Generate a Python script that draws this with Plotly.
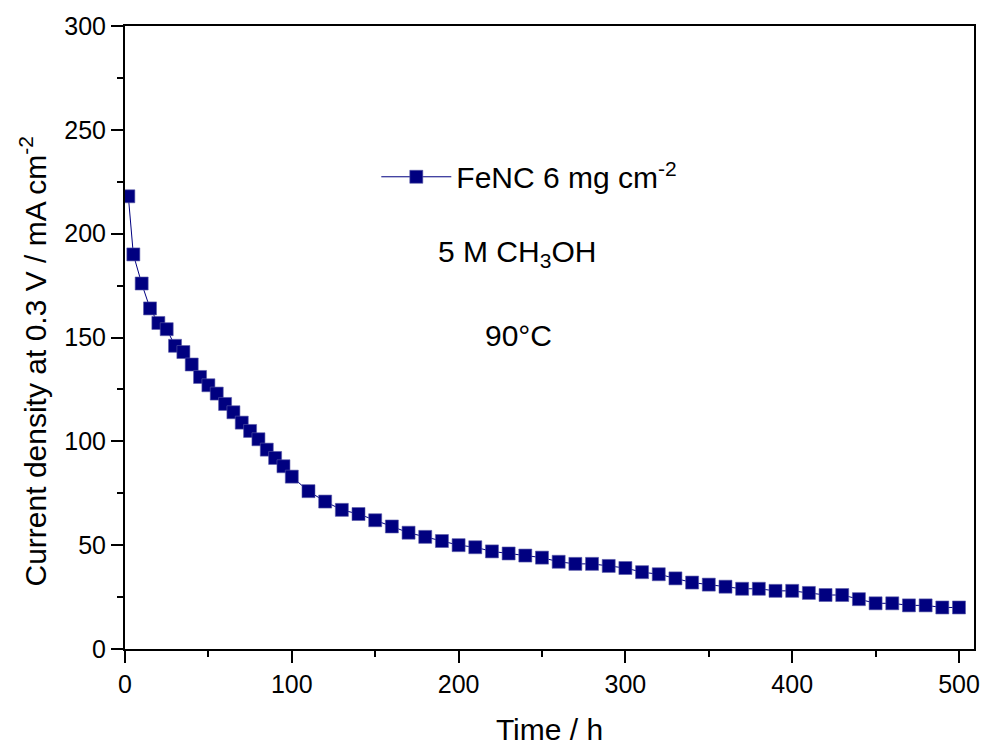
import plotly.graph_objects as go

time_h = [2, 5, 10, 15, 20, 25, 30, 35, 40, 45, 50, 55, 60, 65, 70, 75, 80, 85, 90, 95, 100,
          110, 120, 130, 140, 150, 160, 170, 180, 190, 200, 210, 220, 230, 240, 250, 260, 270,
          280, 290, 300, 310, 320, 330, 340, 350, 360, 370, 380, 390, 400, 410, 420, 430, 440,
          450, 460, 470, 480, 490, 500]
current_density = [218, 190, 176, 164, 157, 154, 146, 143, 137, 131, 127, 123, 118, 114, 109,
                   105, 101, 96, 92, 88, 83,
                   76, 71, 67, 65, 62, 59, 56, 54, 52, 50, 49, 47, 46, 45, 44, 42, 41,
                   41, 40, 39, 37, 36, 34, 32, 31, 30, 29, 29, 28, 28, 27, 26, 26, 24,
                   22, 22, 21, 21, 20, 20]

series_name = "FeNC 6 mg cm<sup>-2</sup>"
x_title = "Time / h"
y_title = "Current density at 0.3 V / mA cm<sup>-2</sup>"
note_1 = "5 M CH<sub>3</sub>OH"
note_2 = "90°C"

FONT = "Liberation Sans, Arial, sans-serif"
NAVY = "#000080"

fig = go.Figure()
fig.add_trace(go.Scatter(
    x=time_h, y=current_density, mode="lines+markers", name=series_name,
    line=dict(color=NAVY, width=1),
    marker=dict(symbol="square", size=13, color=NAVY,
                line=dict(color="#5a5aa8", width=0.6)),
    cliponaxis=True,
))

axis_common = dict(
    showline=True, linecolor="black", linewidth=2, mirror=True,
    ticks="outside", ticklen=12, tickwidth=2, tickcolor="black",
    showgrid=False, zeroline=False,
    tickfont=dict(family=FONT, size=25, color="black"),
)

fig.update_xaxes(range=[0, 509], dtick=100, tick0=0,
                 minor=dict(ticks="outside", ticklen=6, tickwidth=2, tickcolor="black", dtick=50),
                 title=dict(text=x_title, font=dict(family=FONT, size=30, color="black"), standoff=22),
                 **axis_common)
fig.update_yaxes(range=[0, 300], dtick=50, tick0=0,
                 minor=dict(ticks="outside", ticklen=6, tickwidth=2, tickcolor="black", dtick=25),
                 **axis_common)

fig.add_annotation(text=y_title, textangle=-90, xref="paper", yref="paper",
                   x=-0.108, y=0.462, xanchor="center", yanchor="middle", showarrow=False,
                   font=dict(family=FONT, size=30, color="black"))
fig.add_annotation(text=note_1, xref="paper", yref="paper", x=0.462, y=0.635,
                   showarrow=False, font=dict(family=FONT, size=30, color="black"))
fig.add_annotation(text=note_2, xref="paper", yref="paper", x=0.464, y=0.503,
                   showarrow=False, font=dict(family=FONT, size=30, color="black"))

fig.update_layout(
    width=985, height=746,
    margin=dict(l=125, r=5, t=26, b=92),
    paper_bgcolor="white", plot_bgcolor="white",
    showlegend=True,
    legend=dict(x=0.296, y=0.758, xanchor="left", yanchor="middle", itemwidth=70,
                bgcolor="rgba(0,0,0,0)", font=dict(family=FONT, size=30, color="black")),
)

fig.write_html("out.html", config={"displayModeBar": False},
               post_script="document.body.style.margin='0px';document.body.style.overflow='hidden';")
